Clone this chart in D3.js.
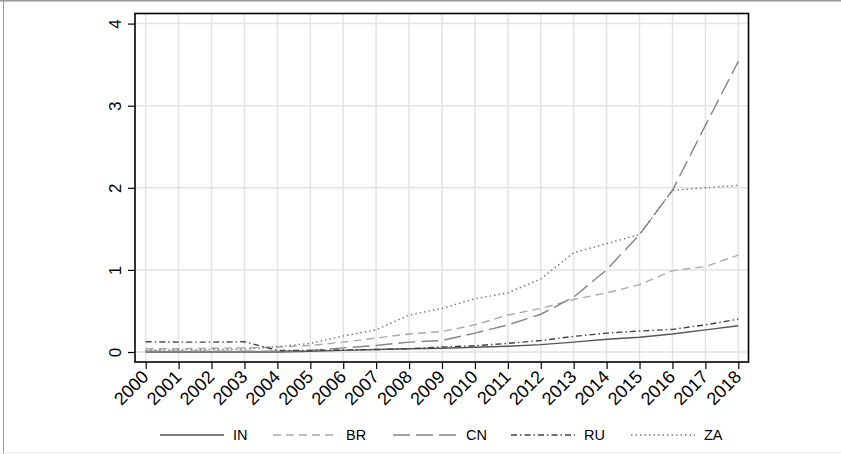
<!DOCTYPE html>
<html>
<head>
<meta charset="utf-8">
<script src="https://cdn.jsdelivr.net/npm/d3@7"></script>
<style>
  html, body { margin: 0; padding: 0; background: #fff; }
  svg { display: block; font-family: "Liberation Sans", Arial, Helvetica, sans-serif; }
</style>
</head>
<body>
<svg id="chart" width="841" height="454"></svg>
<script>
// Years on the x axis
const years = [2000, 2001, 2002, 2003, 2004, 2005, 2006, 2007, 2008, 2009,
               2010, 2011, 2012, 2013, 2014, 2015, 2016, 2017, 2018];

// Series values per year
const IN = [0.00, 0.00, 0.00, 0.00, 0.00, 0.01, 0.02, 0.03, 0.04, 0.045,
            0.057, 0.07, 0.09, 0.12, 0.155, 0.18, 0.22, 0.27, 0.32];
const BR = [0.04, 0.04, 0.045, 0.05, 0.06, 0.08, 0.12, 0.17, 0.22, 0.25,
            0.33, 0.45, 0.53, 0.64, 0.72, 0.82, 0.99, 1.04, 1.18];
const CN = [0.01, 0.01, 0.01, 0.01, 0.01, 0.02, 0.05, 0.08, 0.12, 0.14,
            0.23, 0.33, 0.46, 0.67, 1.00, 1.43, 1.97, 2.76, 3.54];
const RU = [0.125, 0.12, 0.12, 0.125, 0.02, 0.02, 0.025, 0.03, 0.04, 0.06,
            0.077, 0.105, 0.14, 0.19, 0.23, 0.255, 0.276, 0.33, 0.40];
const ZA = [0.02, 0.025, 0.03, 0.035, 0.065, 0.105, 0.195, 0.27, 0.45, 0.53,
            0.65, 0.72, 0.89, 1.21, 1.32, 1.43, 1.97, 2.00, 2.03];

const yTicks = [0, 1, 2, 3, 4];

const series = [
  { name: "IN", values: IN, color: "#555555", dash: null },
  { name: "BR", values: BR, color: "#aaaaaa", dash: "8,5" },
  { name: "CN", values: CN, color: "#858585", dash: "17,6" },
  { name: "RU", values: RU, color: "#444444", dash: "6,3,1.5,3" },
  { name: "ZA", values: ZA, color: "#777777", dash: "1.5,3" }
];

const svg = d3.select("#chart");
const W = 841, H = 454;

// Outer frame edges
svg.append("line").attr("x1", 0).attr("x2", W).attr("y1", 0.75).attr("y2", 0.75)
  .attr("stroke", "#9a9a9a").attr("stroke-width", 1.5);
svg.append("line").attr("x1", 3.5).attr("x2", 3.5).attr("y1", 0).attr("y2", H)
  .attr("stroke", "#9a9a9a").attr("stroke-width", 1);
svg.append("line").attr("x1", 0).attr("x2", W).attr("y1", 452.5).attr("y2", 452.5)
  .attr("stroke", "#eeeeee").attr("stroke-width", 1);

// Plot region
const plot = { left: 135, right: 748.5, top: 13.5, bottom: 362 };

const x = d3.scaleLinear().domain([2000, 2018]).range([145.7, 738.3]);
const y = d3.scaleLinear().domain([0, 4]).range([352, 23.6]);

const g = svg.append("g");

// Gridlines
g.append("g").selectAll("line").data(years).join("line")
  .attr("x1", d => x(d)).attr("x2", d => x(d))
  .attr("y1", plot.top).attr("y2", plot.bottom)
  .attr("stroke", "#e3e3e3").attr("stroke-width", 1.5);
g.append("g").selectAll("line").data(yTicks).join("line")
  .attr("x1", plot.left).attr("x2", plot.right)
  .attr("y1", d => y(d)).attr("y2", d => y(d))
  .attr("stroke", "#e3e3e3").attr("stroke-width", 1.5);

// Series lines
const line = d3.line()
  .x((d, i) => x(years[i]))
  .y(d => y(d));

g.append("g").selectAll("path").data(series).join("path")
  .attr("d", d => line(d.values))
  .attr("fill", "none")
  .attr("stroke", d => d.color)
  .attr("stroke-width", 1.4)
  .attr("stroke-dasharray", d => d.dash);

// Plot frame
g.append("rect")
  .attr("x", plot.left).attr("y", plot.top)
  .attr("width", plot.right - plot.left).attr("height", plot.bottom - plot.top)
  .attr("fill", "none").attr("stroke", "#000").attr("stroke-width", 1.6);

// Y axis
const yAxis = d3.axisLeft(y).tickValues(yTicks).tickSize(7).tickPadding(0).tickFormat(d3.format("d"));
const yg = svg.append("g").attr("transform", `translate(${plot.left},0)`).call(yAxis);
yg.select(".domain").remove();
yg.selectAll(".tick line").attr("stroke", "#000").attr("stroke-width", 1.2);
yg.selectAll(".tick text")
  .attr("x", null).attr("dy", null)
  .attr("text-anchor", "middle")
  .attr("transform", "translate(-14,0) rotate(-90)")
  .style("font-size", "17px")
  .attr("fill", "#000");

// X axis
const xAxis = d3.axisBottom(x).tickValues(years).tickSize(7).tickFormat(d3.format("d"));
const xg = svg.append("g").attr("transform", `translate(0,${plot.bottom})`).call(xAxis);
xg.select(".domain").remove();
xg.selectAll(".tick line").attr("stroke", "#000").attr("stroke-width", 1.2);
xg.selectAll(".tick text")
  .attr("y", null).attr("dy", null)
  .attr("text-anchor", "end")
  .attr("transform", "translate(3.5,16) rotate(-45)")
  .style("font-size", "18px")
  .attr("fill", "#000");

// Legend
const legendX = [160, 273, 393, 511, 631];
const legend = svg.append("g").selectAll("g").data(series).join("g")
  .attr("transform", (d, i) => `translate(${legendX[i]},435)`);
legend.append("line")
  .attr("x1", 0).attr("x2", 64).attr("y1", 0).attr("y2", 0)
  .attr("stroke", d => d.color).attr("stroke-width", 1.4)
  .attr("stroke-dasharray", d => d.dash);
legend.append("text")
  .attr("x", 73).attr("y", 5)
  .style("font-size", "14.5px")
  .attr("fill", "#000")
  .text(d => d.name);
</script>
</body>
</html>
